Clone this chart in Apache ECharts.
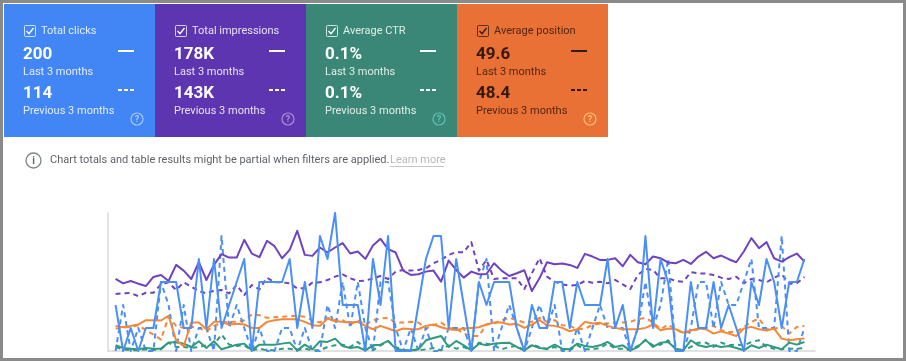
<!DOCTYPE html>
<html>
<head>
<meta charset="utf-8">
<style>
  html, body { margin: 0; padding: 0; background: #fff; }
  #chart { width: 906px; height: 361px; }
</style>
<script src="https://cdn.jsdelivr.net/npm/echarts@6/dist/echarts.min.js"></script>
</head>
<body>
<div id="chart"></div>
<script>
var cardTitles = ["Total clicks", "Total impressions", "Average CTR", "Average position"];
var cardLast = ["200", "178K", "0.1%", "49.6"];
var cardPrev = ["114", "143K", "0.1%", "48.4"];
var cardColors = ["#4285f4", "#5e35b1", "#3b8777", "#e97135"];
var cardText = ["#ffffff", "#ffffff", "#ffffff", "#33190c"];
var cardHelp = ["#a9c8fb", "#a88fd8", "#5cc4b4", "#fbbf6c"];

// clicks are whole numbers, the other metrics are read as relative height (no axis in the picture)
var clicksLast = [2,0,1,0,1,1,3,3,3,1, 1,4,1,4,1,2,3,4,0,3, 3,3,3,4,1,3,1,5,4,6, 2,2,2,0,4,2,5,0,0,0,
  2,4,5,5,1,4,2,0,3,2, 3,3,3,1,0,2,1,1,3,3, 1,3,2,2,2,4,1,2,0,1, 5,1,4,3,0,0,3,1,1,3, 1,2,1,0,3,2,4,3,1,3, 3,4];
var clicksPrev = [0,2,0,1,0,0,3,2,0,2, 0,1,1,0,5,1,2,1,0,1, 0,0,1,1,0,1,0,0,2,1, 3,1,3,1,0,3,3,1,0,1,
  0,1,0,0,1,1,1,0,3,4, 0,1,2,1,0,1,2,1,2,0, 0,1,0,1,2,1,1,1,0,1, 3,1,2,4,0,0,1,3,3,1, 3,2,2,3,4,1,1,1,5,0, 0,1];
var impressionsLast = [215,202,209,201,194,221,227,209,257,240, 215,265,212,257,289,279,279,332,291,280,
  329,313,277,302,359,287,284,309,294,309, 322,291,297,275,315,335,304,294,240,227,
  229,237,240,207,270,242,219,237,229,230, 262,240,224,232,241,179,217,265,259,261,
  257,248,290,282,272,272,277,253,287,265, 259,282,277,264,262,272,260,282,296,277,
  285,274,265,297,337,307,325,277,267,280, 291,267];
var impressionsPrev = [170,172,173,164,174,174,199,205,182,205, 192,179,172,180,182,172,197,167,197,184,
  219,205,205,202,187,187,204,205,212,222, 229,217,209,210,217,224,215,237,242,240,
  242,247,262,272,287,295,295,325,240,272, 215,217,217,217,185,232,277,222,207,199,
  195,197,209,204,207,202,212,199,185,227, 245,242,217,217,209,207,235,232,231,227,
  219,215,222,202,215,212,205,219,229,201, 202,221];
var positionLast = [75,71,75,79,92,92,91,105,32,14, 85,85,65,87,87,79,81,79,69,69,
  87,92,95,95,95,87,77,75,97,89, 87,85,87,75,65,75,67,59,67,65,
  65,75,79,71,65,63,67,69,71,79, 85,85,79,81,69,79,92,77,75,69,
  59,65,87,82,84,75,69,65,65,65, 69,79,62,67,65,55,61,67,65,52,
  59,52,45,67,72,65,61,67,37,32, 35,37];
var positionPrev = [67,70,72,77,62,49,34,102,75,69, 72,69,59,75,85,87,87,92,109,107,
  99,101,102,104,105,102,92,85,99,92, 92,79,92,79,92,97,99,85,85,87,
  85,67,77,85,69,67,52,45,45,79, 82,92,99,92,85,87,99,87,92,77,
  75,65,67,77,82,82,85,85,87,95, 99,85,65,79,65,52,59,65,69,75,
  62,57,57,72,87,97,65,65,75,52, 72,75];
var ctrLast = [17,9,7,5,9,7,7,25,27,22, 12,29,9,29,5,12,19,22,2,19,
  19,19,22,25,2,19,5,29,27,37, 15,9,12,2,17,19,30,7,2,2,
  5,32,39,45,12,30,17,2,22,17, 22,24,25,12,2,17,9,7,19,7,
  5,22,15,12,17,27,12,17,2,12, 34,12,25,27,7,2,32,17,12,17,
  12,15,9,2,17,9,19,12,5,25, 19,27];
var ctrPrev = [12,5,2,2,5,3,5,25,12,12, 9,12,17,19,49,19,15,17,2,7,
  2,2,7,7,2,7,2,2,12,17, 19,12,27,7,2,17,29,12,2,2,
  2,5,9,2,17,7,12,2,25,22, 17,5,12,15,2,19,12,5,12,2,
  2,17,5,5,9,22,7,7,2,15, 32,17,19,32,5,2,12,25,25,12,
  25,17,19,17,27,32,12,7,5,7, 7,9];

function points(list) {
  return list.map(function (v, i) { return [i, v]; });
}

function lineSeries(name, list, color, dashed, axis, z) {
  return {
    name: name,
    type: "line",
    yAxisIndex: axis,
    data: points(list),
    symbol: "none",
    silent: true,
    animation: false,
    z: z,
    lineStyle: { color: color, width: 2, type: dashed ? [5, 4] : "solid", join: "round" }
  };
}

function cardGraphics() {
  var out = [];
  var cardW = 151;
  cardTitles.forEach(function (title, i) {
    var x = 4 + i * cardW;
    var c = cardText[i];
    out.push({ type: "rect", shape: { x: x, y: 4, width: cardW, height: 133 }, style: { fill: cardColors[i] } });
    out.push({ type: "rect", shape: { x: x + 20.5, y: 25.5, width: 11, height: 11, r: 1 }, style: { fill: "none", stroke: c, opacity: 0.75, lineWidth: 1 } });
    out.push({ type: "polyline", shape: { points: [[x + 22.5, 31], [x + 25, 33.7], [x + 29.5, 28]] }, style: { stroke: c, fill: "none", lineWidth: 1.3 } });
    out.push(label(x + 37, 31.5, title, c, 11, "normal", 0.85));
    out.push(label(x + 19, 55, cardLast[i], c, 17, "bold", 1));
    out.push(label(x + 19, 72.5, "Last 3 months", c, 11, "normal", 0.85));
    out.push(label(x + 19, 94, cardPrev[i], c, 17, "bold", 1));
    out.push(label(x + 19, 111, "Previous 3 months", c, 11, "normal", 0.85));
    out.push({ type: "line", shape: { x1: x + 114, y1: 51, x2: x + 130, y2: 51 }, style: { stroke: c, lineWidth: 2 } });
    out.push({ type: "line", shape: { x1: x + 114, y1: 90, x2: x + 130, y2: 90 }, style: { stroke: c, lineWidth: 2, lineDash: [4, 2] } });
    out.push({ type: "circle", shape: { cx: x + 133, cy: 119, r: 6 }, style: { fill: "none", stroke: cardHelp[i], lineWidth: 1.2 } });
    out.push(label(x + 130.7, 119.5, "?", cardHelp[i], 9, "bold", 1));
  });
  return out;
}

function label(x, y, text, color, size, weight, opacity) {
  return {
    type: "text",
    x: x,
    y: y,
    style: {
      text: text,
      fill: color,
      opacity: opacity,
      font: weight + " " + size + "px Roboto",
      textVerticalAlign: "middle"
    }
  };
}

function noticeGraphics() {
  return [
    { type: "circle", shape: { cx: 33.5, cy: 160.5, r: 7.5 }, style: { fill: "none", stroke: "#80868b", lineWidth: 1.3 } },
    label(32.3, 161, "i", "#5f6368", 10, "bold", 1),
    label(50, 160.5, "Chart totals and table results might be partial when filters are applied.", "#5f6368", 11, "normal", 1),
    label(390, 160.5, "Learn more", "#b6b9bc", 11, "normal", 1),
    { type: "line", shape: { x1: 390, y1: 166.5, x2: 444, y2: 166.5 }, style: { stroke: "#c4c6c8", lineWidth: 1 } }
  ];
}

function frameGraphics() {
  return [
    { type: "rect", shape: { x: 0, y: 0, width: 906, height: 3 }, style: { fill: "#8a8a8a" } },
    { type: "rect", shape: { x: 0, y: 358, width: 906, height: 3 }, style: { fill: "#8a8a8a" } },
    { type: "rect", shape: { x: 0, y: 0, width: 3, height: 361 }, style: { fill: "#8a8a8a" } },
    { type: "rect", shape: { x: 903, y: 0, width: 3, height: 361 }, style: { fill: "#8a8a8a" } }
  ];
}

var myChart = echarts.init(document.getElementById("chart"), null, { renderer: "canvas" });
myChart.setOption({
  backgroundColor: "#ffffff",
  animation: false,
  graphic: { elements: frameGraphics().concat(cardGraphics(), noticeGraphics()) },
  grid: { left: 108, right: 91, top: 213, bottom: 10 },
  xAxis: {
    type: "value",
    min: -1,
    max: 92.4,
    splitLine: { show: false },
    axisTick: { show: false },
    axisLabel: { show: false },
    axisLine: { show: true, onZero: false, lineStyle: { color: "#d8d8d8", width: 1.5 } }
  },
  yAxis: [
    {
      type: "value",
      min: 0,
      max: 6,
      splitLine: { show: false },
      axisTick: { show: false },
      axisLabel: { show: false },
      axisLine: { show: true, onZero: false, lineStyle: { color: "#d8d8d8", width: 1.5 } }
    },
    { type: "value", min: 0, max: 412, show: false }
  ],
  series: [
    lineSeries("Average CTR previous", ctrPrev, "#2f9a80", true, 1, 2),
    lineSeries("Average position previous", positionPrev, "#f5873a", true, 1, 2),
    lineSeries("Total impressions previous", impressionsPrev, "#6f42c1", true, 1, 2),
    lineSeries("Total clicks previous", clicksPrev, "#4a8ff8", true, 0, 3),
    lineSeries("Average CTR", ctrLast, "#2f9a80", false, 1, 4),
    lineSeries("Average position", positionLast, "#f5873a", false, 1, 4),
    lineSeries("Total impressions", impressionsLast, "#6f42c1", false, 1, 4),
    lineSeries("Total clicks", clicksLast, "#4a8ff8", false, 0, 5)
  ]
});
</script>
</body>
</html>
